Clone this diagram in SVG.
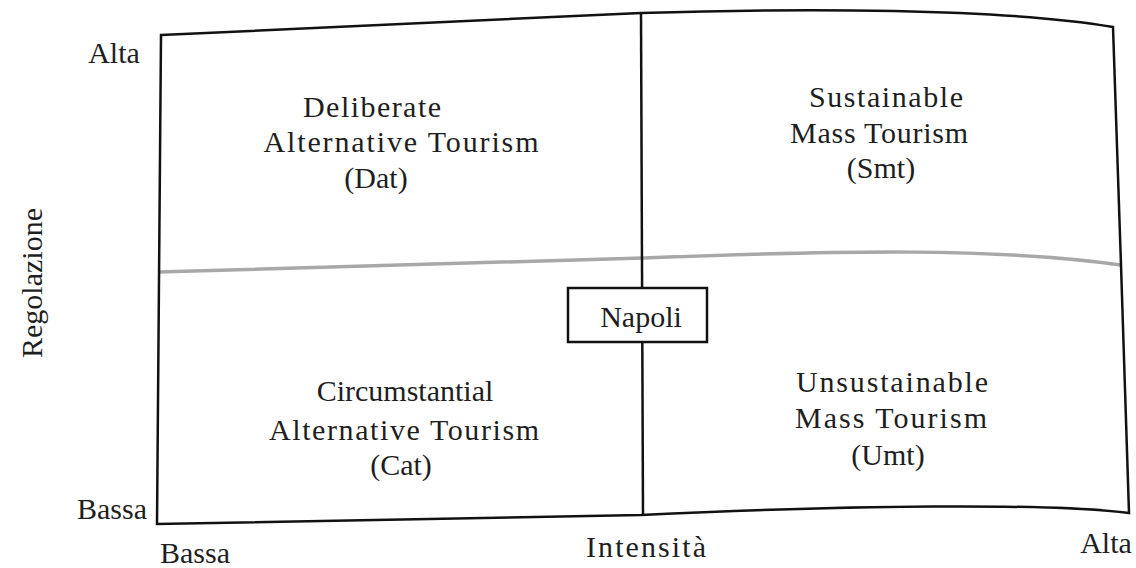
<svg xmlns="http://www.w3.org/2000/svg" width="1136" height="568" viewBox="0 0 1136 568">
<style>
.t{font-family:"Liberation Serif","DejaVu Serif",serif;font-size:30px;fill:#1e1e1e;text-anchor:middle}
.frame{fill:none;stroke:#111;stroke-width:2.5;stroke-linejoin:miter}
.mid{fill:none;stroke:#a8a8a8;stroke-width:3.5}
.box{fill:#fff;stroke:#111;stroke-width:2.5}
</style>
<rect width="1136" height="568" fill="#fff"/>
<g id="axes">
<text class="t" x="114" y="63">Alta</text>
<text class="t" x="112" y="519">Bassa</text>
<text class="t" x="195" y="563">Bassa</text>
<text class="t" x="646" y="557" textLength="120">Intensità</text>
<text class="t" x="1106" y="553">Alta</text>
<text class="t" transform="translate(42,283) rotate(-90)">Regolazione</text>
</g>
<g id="connectors">
<path class="mid" d="M158,272 L643,258 C850,250 1000,248 1121,265"/>
<path class="frame" d="M161,35 L641,13 C800,8 1000,8 1113,27 L1121,265 L1129,513 C1050,503 850,505 641,515 L157,524 Z"/>
<line class="frame" x1="641" y1="13" x2="643" y2="515"/>
</g>
<g id="napoli">
<rect class="box" x="568" y="288" width="139" height="54"/>
<text class="t" x="641" y="327">Napoli</text>
</g>
<g id="dat">
<text class="t" x="372" y="117" textLength="138">Deliberate</text>
<text class="t" x="401" y="152" textLength="275">Alternative Tourism</text>
<text class="t" x="376" y="188">(Dat)</text>
</g>
<g id="smt">
<text class="t" x="886" y="107" textLength="154">Sustainable</text>
<text class="t" x="879" y="143" textLength="178">Mass Tourism</text>
<text class="t" x="881" y="178">(Smt)</text>
</g>
<g id="cat">
<text class="t" x="405" y="401">Circumstantial</text>
<text class="t" x="404" y="440" textLength="270">Alternative Tourism</text>
<text class="t" x="401" y="475">(Cat)</text>
</g>
<g id="umt">
<text class="t" x="892" y="392" textLength="192">Unsustainable</text>
<text class="t" x="891" y="428" textLength="192">Mass Tourism</text>
<text class="t" x="888" y="465">(Umt)</text>
</g>
</svg>
